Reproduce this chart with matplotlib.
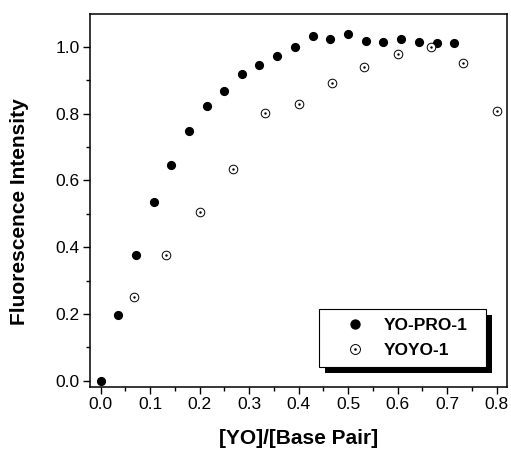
import matplotlib
matplotlib.use("Agg")
import matplotlib.pyplot as plt
import matplotlib.patches as patches
from matplotlib.ticker import MultipleLocator

plt.rcParams['font.family'] = ['Liberation Sans', 'DejaVu Sans']

# YO-PRO-1 (filled circles)
ratio_yopro = [0.0, 0.036, 0.071, 0.107, 0.143, 0.179, 0.214, 0.25, 0.286, 0.321, 0.357,
               0.393, 0.429, 0.464, 0.5, 0.536, 0.571, 0.607, 0.643, 0.679, 0.714]
fl_yopro = [0.0, 0.197, 0.378, 0.534, 0.647, 0.749, 0.824, 0.867, 0.919, 0.947, 0.972,
            1.001, 1.033, 1.025, 1.038, 1.019, 1.014, 1.025, 1.014, 1.011, 1.013]

# YOYO-1 (open circles with a dot)
ratio_yoyo = [0.067, 0.133, 0.2, 0.267, 0.333, 0.4, 0.467, 0.533, 0.6, 0.667, 0.733, 0.8]
fl_yoyo = [0.250, 0.378, 0.505, 0.635, 0.803, 0.830, 0.893, 0.941, 0.979, 1.000, 0.953, 0.809]

x_ticks = [0.0, 0.1, 0.2, 0.3, 0.4, 0.5, 0.6, 0.7, 0.8]
y_ticks = [0.0, 0.2, 0.4, 0.6, 0.8, 1.0]

fig = plt.figure(figsize=(5.11, 4.51), dpi=100)
ax = fig.add_axes([0.176, 0.142, 0.816, 0.827])

h1, = ax.plot(ratio_yopro, fl_yopro, 'o', color='black', ms=5.6, ls='none')
h2, = ax.plot(ratio_yoyo, fl_yoyo, 'o', mfc='white', mec='black', mew=0.7, ms=6.2, ls='none')
h3, = ax.plot(ratio_yoyo, fl_yoyo, '.', color='black', ms=1.5, ls='none')

ax.set_xlim(-0.0216, 0.821)
ax.set_ylim(-0.019, 1.099)
ax.set_xticks(x_ticks)
ax.set_yticks(y_ticks)
ax.xaxis.set_major_formatter(matplotlib.ticker.FormatStrFormatter('%.1f'))
ax.yaxis.set_major_formatter(matplotlib.ticker.FormatStrFormatter('%.1f'))
ax.xaxis.set_minor_locator(MultipleLocator(0.05))
ax.yaxis.set_minor_locator(MultipleLocator(0.1))
ax.tick_params(which='both', direction='out', top=False, right=False, width=1.0)
ax.tick_params(which='major', length=5, labelsize=12.5, pad=2.5)
ax.tick_params(which='minor', length=3)
for s in ax.spines.values():
    s.set_linewidth(1.1)

ax.set_xlabel('[YO]/[Base Pair]', fontsize=15, fontweight='bold')
ax.set_ylabel('Fluorescence Intensity', fontsize=15, fontweight='bold')
ax.xaxis.set_label_coords(0.5, -0.112)
ax.yaxis.set_label_coords(-0.145, 0.47)

leg = ax.legend([h1, (h2, h3)], ['YO-PRO-1', 'YOYO-1'],
                loc='upper left', bbox_to_anchor=(0.549, 0.056, 0.401, 0.153),
                mode='expand', borderaxespad=0, fancybox=False, framealpha=1,
                edgecolor='black', handlelength=3.2, handletextpad=0.05,
                labelspacing=0.6, borderpad=0.5, markerscale=1.15,
                prop={'weight': 'bold', 'size': 12.5})
leg.get_frame().set_linewidth(0.8)

# black drop shadow behind the legend box
fig.canvas.draw()
bb = leg.get_window_extent()
inv = ax.transAxes.inverted()
(x0, y0) = inv.transform((bb.x0 + 6, bb.y0 - 6))
(x1, y1) = inv.transform((bb.x1 + 6, bb.y1 - 6))
ax.add_patch(patches.Rectangle((x0, y0), x1 - x0, y1 - y0, transform=ax.transAxes,
                               facecolor='black', edgecolor='none', zorder=4.5,
                               clip_on=False))

fig.savefig('out.png', dpi=100)
